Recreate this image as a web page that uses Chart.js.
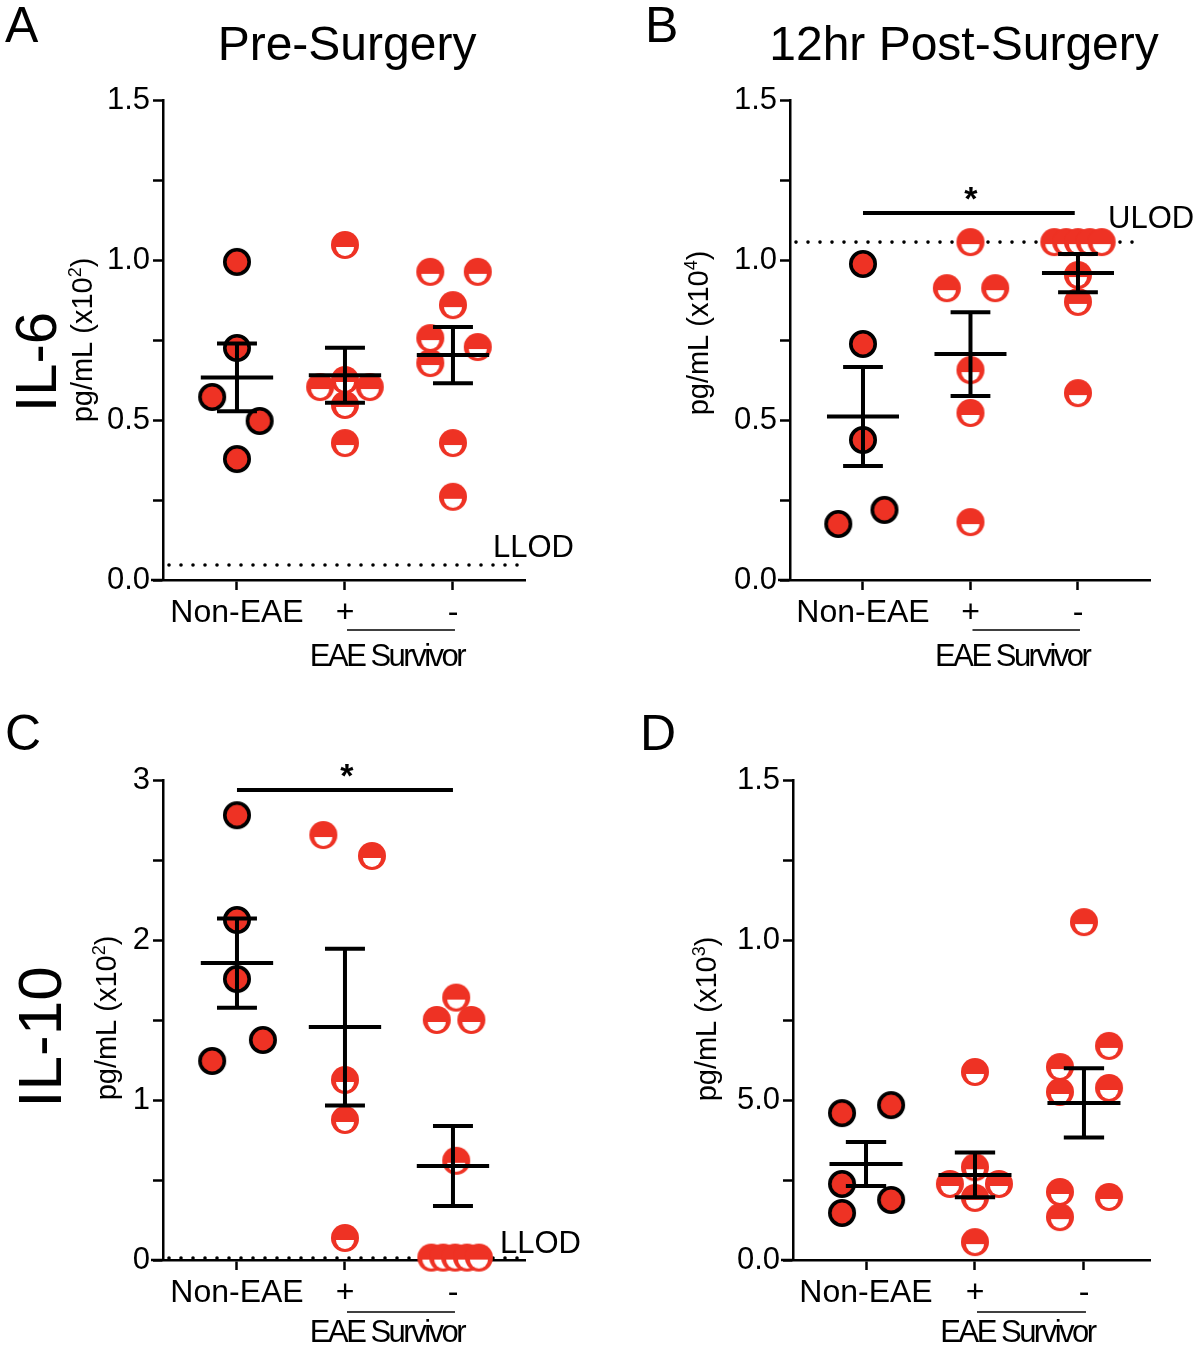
<!DOCTYPE html>
<html>
<head>
<meta charset="utf-8">
<title>IL-6 / IL-10 EAE survivor</title>
<script src="https://cdn.jsdelivr.net/npm/chart.js@4.4.1/dist/chart.umd.min.js"></script>
<style>
  body { margin: 0; background: #fff; }
  .wrap { position: relative; width: 1200px; height: 1345px; }
  canvas { position: absolute; }
</style>
</head>
<body>
<div class="wrap">
  <canvas id="panelA" width="600" height="680" style="left:0;top:0;width:600px;height:680px"></canvas>
  <canvas id="panelB" width="600" height="680" style="left:600px;top:0;width:600px;height:680px"></canvas>
  <canvas id="panelC" width="600" height="665" style="left:0;top:680px;width:600px;height:665px"></canvas>
  <canvas id="panelD" width="600" height="665" style="left:600px;top:680px;width:600px;height:665px"></canvas>
</div>
<script>
// groups on the x axis
const groups = ['Non-EAE', '+', '-'];

// tick labels
const ticksIl6 = ['0.0', '0.5', '1.0', '1.5'];
const ticksIl10 = ['0', '1', '2', '3'];
const ticksD = ['0.0', '5.0', '1.0', '1.5'];

// A - IL-6 pre-surgery (x10^2 pg/mL)
const aNon = [0.994, 0.725, 0.572, 0.497, 0.378];
const aNonX = [1, 1, 0.77, 1.21, 1];
const aPlus = [1.047, 0.625, 0.603, 0.603, 0.547, 0.428];
const aPlusX = [2, 2, 1.77, 2.23, 2, 2];
const aMinus = [0.963, 0.963, 0.859, 0.756, 0.728, 0.678, 0.428, 0.26];
const aMinusX = [2.79, 3.23, 3, 2.79, 3.23, 2.79, 3, 3];
const aMean = [0.633, 0.64, 0.703];
const aSem = [0.106, 0.086, 0.088];
const aLLOD = 0.047;

// B - IL-6 12hr post-surgery (x10^4 pg/mL)
const bNon = [0.9875, 0.7375, 0.4375, 0.175, 0.219];
const bNonX = [1, 1, 1, 0.77, 1.2];
const bPlus = [1.056, 0.912, 0.912, 0.656, 0.522, 0.181];
const bPlusX = [2, 1.78, 2.23, 2, 2, 2];
const bMinus = [1.056, 1.056, 1.056, 1.056, 1.056, 0.953, 0.869, 0.584];
const bMinusX = [2.78, 2.89, 3, 3.11, 3.22, 3, 3, 3];
const bMean = [0.511, 0.706, 0.959];
const bSem = [0.155, 0.131, 0.06];
const bULOD = 1.056;
const bSig = [1, 2.97, 1.147];

// C - IL-10 pre-surgery (x10^2 pg/mL)
const cNon = [2.78, 2.125, 1.756, 1.375, 1.244];
const cNonX = [1, 1, 1, 1.24, 0.77];
const cPlus = [2.656, 2.525, 1.125, 0.875, 0.1375];
const cPlusX = [1.8, 2.25, 2, 2, 2];
const cMinus = [1.64, 1.5, 1.5, 0.62, 0.015, 0.015, 0.015, 0.015, 0.015];
const cMinusX = [3.03, 2.85, 3.17, 3.03, 2.8, 2.91, 3.02, 3.13, 3.24];
const cMean = [1.856, 1.456, 0.5875];
const cSem = [0.279, 0.49, 0.25];
const cLLOD = 0.012;
const cSig = [1, 3, 2.9375];

// D - (x10^3 pg/mL)
const dNon = [0.459, 0.484, 0.2375, 0.1875, 0.147];
const dNonX = [0.78, 1.23, 0.78, 1.23, 0.78];
const dPlus = [0.5875, 0.29, 0.2375, 0.2375, 0.194, 0.056];
const dPlusX = [2, 2, 1.77, 2.22, 2, 2];
const dMinus = [1.056, 0.669, 0.603, 0.5375, 0.525, 0.2125, 0.197, 0.134];
const dMinusX = [3, 3.23, 2.78, 3.23, 2.78, 2.78, 3.23, 2.78];
const dMean = [0.30, 0.266, 0.491];
const dSem = [0.069, 0.07, 0.108];

const FONT = "'Liberation Sans', Arial, Helvetica, sans-serif";
const RED = '#ee3224';

// filled red dot with black ring (Non-EAE)
function dotFilled() {
  const c = document.createElement('canvas');
  c.width = 32;
  c.height = 32;
  const g = c.getContext('2d');
  g.beginPath();
  g.arc(16, 16, 12.2, 0, Math.PI * 2);
  g.fillStyle = RED;
  g.fill();
  g.lineWidth = 3.6;
  g.strokeStyle = '#000';
  g.stroke();
  return c;
}

// red dot with white lower half (EAE survivor +/-)
function dotHalf() {
  const c = document.createElement('canvas');
  c.width = 32;
  c.height = 32;
  const g = c.getContext('2d');
  g.beginPath();
  g.arc(16, 16, 14, 0, Math.PI * 2);
  g.fillStyle = RED;
  g.fill();
  g.beginPath();
  g.moveTo(7, 18);
  g.arc(16, 18, 9, 0, Math.PI);
  g.closePath();
  g.fillStyle = '#fff';
  g.fill();
  return c;
}

const markFilled = dotFilled();
const markHalf = dotHalf();

function toPoints(xs, ys) {
  return ys.map((v, i) => ({ x: xs[i], y: v }));
}

function drawYLabel(ctx, x, y, sup) {
  ctx.save();
  ctx.translate(x, y);
  ctx.rotate(-Math.PI / 2);
  ctx.fillStyle = '#000';
  ctx.textBaseline = 'alphabetic';
  ctx.textAlign = 'left';
  const main = 'pg/mL (x10';
  ctx.font = '29px ' + FONT;
  const w1 = ctx.measureText(main).width;
  const w3 = ctx.measureText(')').width;
  ctx.font = '18px ' + FONT;
  const w2 = ctx.measureText(sup).width;
  let sx = -(w1 + w2 + w3) / 2;
  ctx.font = '29px ' + FONT;
  ctx.fillText(main, sx, 0);
  sx += w1;
  ctx.font = '18px ' + FONT;
  ctx.fillText(sup, sx, -11);
  sx += w2;
  ctx.font = '29px ' + FONT;
  ctx.fillText(')', sx, 0);
  ctx.restore();
}

function makePanel(id, p) {
  const canvas = document.getElementById(id);
  const W = canvas.width;
  const H = canvas.height;

  const extras = {
    id: 'extras',
    beforeDatasetsDraw(chart) {
      if (!p.limit) return;
      const ctx = chart.ctx;
      const xs = chart.scales.x;
      const ys = chart.scales.y;
      const y = ys.getPixelForValue(p.limit.value);
      ctx.save();
      ctx.fillStyle = '#000';
      for (let x = xs.left + 6; x <= p.limit.end; x += 12) {
        ctx.beginPath();
        ctx.arc(x, y, 1.8, 0, Math.PI * 2);
        ctx.fill();
      }
      ctx.restore();
    },
    afterDatasetsDraw(chart) {
      const ctx = chart.ctx;
      const xs = chart.scales.x;
      const ys = chart.scales.y;
      ctx.save();
      ctx.strokeStyle = '#000';
      ctx.lineWidth = 4;
      ctx.lineCap = 'butt';
      p.mean.forEach((m, i) => {
        const cx = xs.getPixelForValue(i + 1);
        const halfMean = xs.getPixelForValue(i + 1.335) - cx;
        const halfCap = xs.getPixelForValue(i + 1.185) - cx;
        const ym = ys.getPixelForValue(m);
        const yt = ys.getPixelForValue(m + p.sem[i]);
        const yb = ys.getPixelForValue(m - p.sem[i]);
        ctx.beginPath();
        ctx.moveTo(cx, yt);
        ctx.lineTo(cx, yb);
        ctx.moveTo(cx - halfMean, ym);
        ctx.lineTo(cx + halfMean, ym);
        ctx.moveTo(cx - halfCap, yt);
        ctx.lineTo(cx + halfCap, yt);
        ctx.moveTo(cx - halfCap, yb);
        ctx.lineTo(cx + halfCap, yb);
        ctx.stroke();
      });
      ctx.restore();
    },
    afterDraw(chart) {
      const ctx = chart.ctx;
      const xs = chart.scales.x;
      const ys = chart.scales.y;
      const area = chart.chartArea;
      ctx.save();
      ctx.fillStyle = '#000';
      ctx.strokeStyle = '#000';

      // small stub of x axis left of the y axis
      ctx.lineWidth = 2.5;
      ctx.beginPath();
      ctx.moveTo(area.left - 12, area.bottom);
      ctx.lineTo(area.left, area.bottom);
      ctx.stroke();

      // panel letter
      ctx.textAlign = 'left';
      ctx.textBaseline = 'alphabetic';
      ctx.font = '50px ' + FONT;
      ctx.fillText(p.letter[0], p.letter[1], p.letter[2]);

      if (p.title) {
        ctx.textAlign = 'center';
        ctx.font = '48px ' + FONT;
        ctx.fillText(p.title[0], p.title[1], p.title[2]);
      }

      if (p.cyto) {
        ctx.save();
        ctx.translate(p.cyto[1], p.cyto[2]);
        ctx.rotate(-Math.PI / 2);
        ctx.textAlign = 'center';
        ctx.font = p.cyto[3] + 'px ' + FONT;
        ctx.fillText(p.cyto[0], 0, 0);
        ctx.restore();
      }

      drawYLabel(ctx, p.ylab[0], p.ylab[1], p.ylab[2]);

      if (p.limit) {
        ctx.textAlign = 'left';
        ctx.font = '31px ' + FONT;
        ctx.fillText(p.limit.label, p.limit.tx, p.limit.ty);
      }

      if (p.sig) {
        const y = ys.getPixelForValue(p.sig[2]);
        const x1 = xs.getPixelForValue(p.sig[0]);
        const x2 = xs.getPixelForValue(p.sig[1]);
        ctx.lineWidth = 4;
        ctx.beginPath();
        ctx.moveTo(x1, y);
        ctx.lineTo(x2, y);
        ctx.stroke();
        ctx.textAlign = 'center';
        ctx.font = 'bold 34px ' + FONT;
        ctx.fillText('*', (x1 + x2) / 2 + 2, y - 3);
      }

      // EAE Survivor bracket under + and -
      const s1 = xs.getPixelForValue(2);
      const s2 = xs.getPixelForValue(3);
      ctx.lineWidth = 1.5;
      ctx.beginPath();
      ctx.moveTo(s1 + 2, p.surv[0]);
      ctx.lineTo(s2 + 2, p.surv[0]);
      ctx.stroke();
      ctx.textAlign = 'center';
      ctx.font = '31px ' + FONT;
      ctx.letterSpacing = '-2.5px';
      ctx.fillText('EAE Survivor', (s1 + s2) / 2 - 12, p.surv[1]);
      ctx.letterSpacing = '0px';
      ctx.restore();
    },
  };

  new Chart(canvas, {
    type: 'scatter',
    data: {
      datasets: [
        { data: toPoints(p.x[0], p.y[0]), pointStyle: markFilled, clip: false },
        { data: toPoints(p.x[1], p.y[1]), pointStyle: markHalf, clip: false },
        { data: toPoints(p.x[2], p.y[2]), pointStyle: markHalf, clip: false },
      ],
    },
    options: {
      responsive: false,
      animation: false,
      events: [],
      devicePixelRatio: 1,
      layout: {
        padding: {
          left: p.area.left - 80,
          right: W - p.area.right,
          top: p.area.top,
          bottom: H - p.area.bottom - 50,
        },
      },
      plugins: {
        legend: { display: false },
        tooltip: { enabled: false },
      },
      scales: {
        x: {
          type: 'linear',
          min: p.xMin,
          max: p.xMax,
          afterFit: (scale) => { scale.height = 50; },
          afterBuildTicks: (scale) => {
            scale.ticks = [1, 2, 3].map((v) => ({ value: v }));
          },
          grid: {
            drawOnChartArea: false,
            drawTicks: true,
            tickLength: 10,
            tickWidth: 2.5,
            tickColor: '#000',
            color: '#000',
          },
          border: { display: true, color: '#000', width: 2.5 },
          ticks: {
            color: '#000',
            padding: 4,
            maxRotation: 0,
            font: { family: FONT, size: 32 },
            callback: (v, i) => groups[i],
          },
        },
        y: {
          min: 0,
          max: p.yMax,
          afterFit: (scale) => { scale.width = 80; },
          grid: {
            drawOnChartArea: false,
            drawTicks: true,
            tickLength: 10,
            tickWidth: 2.5,
            tickColor: '#000',
            color: '#000',
          },
          border: { display: true, color: '#000', width: 2.5 },
          ticks: {
            stepSize: p.step,
            color: '#000',
            padding: 3,
            font: { family: FONT, size: 31 },
            callback: (v) => {
              const k = v / p.major;
              if (Math.abs(k - Math.round(k)) > 1e-6) return '';
              return p.yLabels[Math.round(k)];
            },
          },
        },
      },
    },
    plugins: [extras],
  });
}

makePanel('panelA', {
  area: { left: 163, right: 525, top: 100, bottom: 580 },
  xMin: 0.315, xMax: 3.667, yMax: 1.5, step: 0.25, major: 0.5, yLabels: ticksIl6,
  x: [aNonX, aPlusX, aMinusX], y: [aNon, aPlus, aMinus],
  mean: aMean, sem: aSem,
  letter: ['A', 5, 42],
  title: ['Pre-Surgery', 347, 60],
  cyto: ['IL-6', 56, 362, 58],
  ylab: [92, 340, '2'],
  limit: { label: 'LLOD', value: aLLOD, end: 518, tx: 493, ty: 557 },
  sig: null,
  surv: [630, 666],
});

makePanel('panelB', {
  area: { left: 190, right: 550, top: 100, bottom: 580 },
  xMin: 0.321, xMax: 3.67, yMax: 1.5, step: 0.25, major: 0.5, yLabels: ticksIl6,
  x: [bNonX, bPlusX, bMinusX], y: [bNon, bPlus, bMinus],
  mean: bMean, sem: bSem,
  letter: ['B', 45, 42],
  title: ['12hr Post-Surgery', 364, 60],
  cyto: null,
  ylab: [108, 333, '4'],
  limit: { label: 'ULOD', value: bULOD, end: 543, tx: 508, ty: 228 },
  sig: bSig,
  surv: [630, 666],
});

makePanel('panelC', {
  area: { left: 163, right: 525, top: 100, bottom: 580 },
  xMin: 0.315, xMax: 3.667, yMax: 3, step: 0.5, major: 1, yLabels: ticksIl10,
  x: [cNonX, cPlusX, cMinusX], y: [cNon, cPlus, cMinus],
  mean: cMean, sem: cSem,
  letter: ['C', 5, 70],
  title: null,
  cyto: ['IL-10', 61, 357, 62],
  ylab: [116, 338, '2'],
  limit: { label: 'LLOD', value: cLLOD, end: 525, tx: 500, ty: 573 },
  sig: cSig,
  surv: [632, 662],
});

makePanel('panelD', {
  area: { left: 193, right: 550, top: 100, bottom: 580 },
  xMin: 0.33, xMax: 3.606, yMax: 1.5, step: 0.25, major: 0.5, yLabels: ticksD,
  x: [dNonX, dPlusX, dMinusX], y: [dNon, dPlus, dMinus],
  mean: dMean, sem: dSem,
  letter: ['D', 40, 70],
  title: null,
  cyto: null,
  ylab: [116, 339, '3'],
  limit: null,
  sig: null,
  surv: [632, 662],
});
</script>
</body>
</html>
